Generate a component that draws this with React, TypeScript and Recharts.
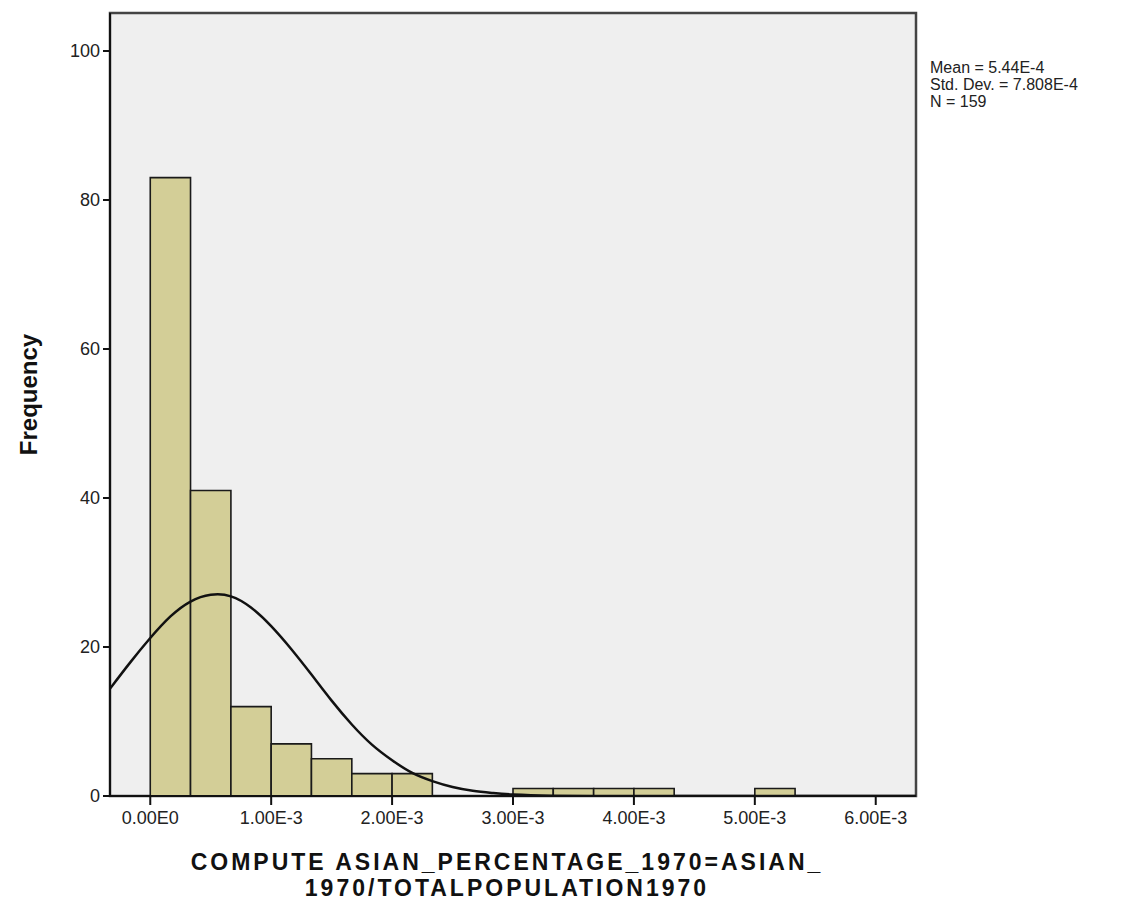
import { ComposedChart, Line, XAxis, YAxis, ReferenceArea, Label } from 'recharts'

// histogram bins (lower edge, upper edge, frequency)
const binStarts = [0, 0.000333, 0.000667, 0.001, 0.001333, 0.001667, 0.002, 0.003, 0.003333, 0.003667, 0.004, 0.005]
const binEnds = [0.000333, 0.000667, 0.001, 0.001333, 0.001667, 0.002, 0.002333, 0.003333, 0.003667, 0.004, 0.004333, 0.005333]
const binCounts = [83, 41, 12, 7, 5, 3, 3, 1, 1, 1, 1, 1]

// fitted normal curve, read along the x axis
const curveX = [
  -0.000333, -0.000167, 0, 0.000167, 0.000333, 0.0005, 0.000667, 0.000833, 0.001, 0.001167, 0.001333, 0.0015,
  0.001667, 0.001833, 0.002, 0.002167, 0.002333, 0.0025, 0.002667, 0.002833, 0.003, 0.003333, 0.003667, 0.004,
  0.005, 0.006, 0.006333,
]
const curveFreq = [
  14.4, 17.9, 21.2, 24.1, 26.1, 27.0, 26.8, 25.3, 22.8, 19.7, 16.3, 12.8, 9.6, 6.9, 4.8, 3.1, 2.0, 1.2, 0.7, 0.4,
  0.2, 0.05, 0, 0, 0, 0, 0,
]

const xTicks = [0, 0.001, 0.002, 0.003, 0.004, 0.005, 0.006]
const yTicks = [0, 20, 40, 60, 80, 100]
const xDomain: [number, number] = [-0.000333, 0.006333]
const yDomain: [number, number] = [0, 105.1]

const statLines = ['Mean = 5.44E-4', 'Std. Dev. = 7.808E-4', 'N = 159']
const xTitleLines = ['COMPUTE ASIAN_PERCENTAGE_1970=ASIAN_', '1970/TOTALPOPULATION1970']
const yTitle = 'Frequency'

const FONT = 'Arial, "Liberation Sans", sans-serif'
const BAR_FILL = '#D3CE97'
const PLOT_BG = '#EFEFEF'

const curveData = curveX.map((x, i) => ({ x, freq: curveFreq[i] }))

const fmtX = (v: number) => (v === 0 ? '0.00E0' : `${(v * 1000).toFixed(2)}E-3`)

function XTitle({ viewBox }: any) {
  const cx = viewBox.x + viewBox.width / 2 - 6
  return (
    <text textAnchor="middle" fontFamily={FONT} fontWeight="bold" fontSize={23} letterSpacing={3} fill="#111">
      {xTitleLines.map((line, i) => (
        <tspan key={i} x={cx} y={viewBox.y + 74 + i * 26}>
          {line}
        </tspan>
      ))}
    </text>
  )
}

function YTitle({ viewBox }: any) {
  const cy = viewBox.y + viewBox.height / 2 - 10
  return (
    <text
      x={20}
      y={cy}
      transform={`rotate(-90, 20, ${cy})`}
      textAnchor="middle"
      dominantBaseline="central"
      fontFamily={FONT}
      fontWeight="bold"
      fontSize={24}
      fill="#111"
    >
      {yTitle}
    </text>
  )
}

export default function App() {
  return (
    <div style={{ position: 'relative', width: 1124, height: 903, background: '#fff' }}>
      <ComposedChart
        width={1124}
        height={903}
        data={curveData}
        margin={{ top: 5, right: 216, bottom: 55, left: 40 }}
      >
        <XAxis
          type="number"
          dataKey="x"
          domain={xDomain}
          ticks={xTicks}
          tickFormatter={fmtX}
          allowDataOverflow
          height={60}
          stroke="#111"
          strokeWidth={2}
          tickSize={9}
          tickMargin={6}
          tick={{ fill: '#222', fontSize: 18, fontFamily: FONT }}
        >
          <Label content={XTitle} />
        </XAxis>
        <YAxis
          type="number"
          domain={yDomain}
          ticks={yTicks}
          allowDataOverflow
          width={62}
          stroke="#111"
          strokeWidth={2}
          tickSize={7}
          tickMargin={3}
          tick={{ fill: '#222', fontSize: 18, fontFamily: FONT }}
        >
          <Label content={YTitle} />
        </YAxis>
        <ReferenceArea
          x1={xDomain[0]}
          x2={xDomain[1]}
          y1={yDomain[0]}
          y2={yDomain[1]}
          fill={PLOT_BG}
          fillOpacity={1}
          stroke="#444"
          strokeWidth={2.5}
        />
        {binCounts.map((c, i) => (
          <ReferenceArea
            key={i}
            x1={binStarts[i]}
            x2={binEnds[i]}
            y1={0}
            y2={c}
            fill={BAR_FILL}
            fillOpacity={1}
            stroke="#1a1a1a"
            strokeWidth={1.6}
          />
        ))}
        <Line
          type="natural"
          dataKey="freq"
          stroke="#111"
          strokeWidth={2.5}
          dot={false}
          activeDot={false}
          isAnimationActive={false}
        />
      </ComposedChart>
      <div
        style={{
          position: 'absolute',
          left: 922,
          top: 51,
          fontFamily: FONT,
          fontSize: 16,
          lineHeight: '17px',
          color: '#222',
          whiteSpace: 'nowrap',
        }}
      >
        {statLines.map((s, i) => (
          <div key={i}>{s}</div>
        ))}
      </div>
    </div>
  )
}
